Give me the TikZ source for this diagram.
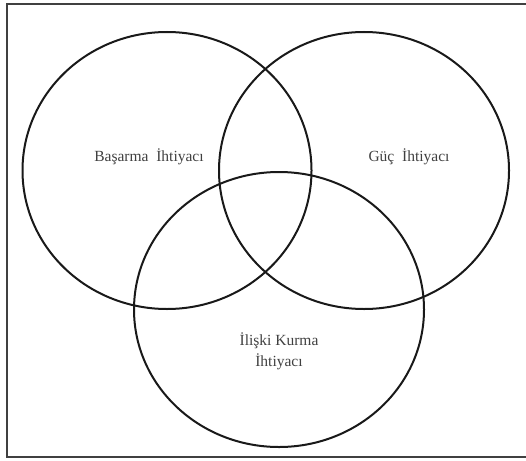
\documentclass[tikz,border=0pt]{standalone}
\usepackage{fontspec}
\setmainfont{Liberation Serif}
\begin{document}
\begin{tikzpicture}[x=1pt,y=-1pt,
    need/.style={draw=black!90, line width=2pt},
    lbl/.style={font=\fontsize{15.5}{21}\selectfont, text=black!75, align=center}]
        \useasboundingbox (0,0) rectangle (526,460);
        \clip (0,0) rectangle (526,460);
        \draw[line width=2.6pt, draw=black!75] (7,4) rectangle (530,457);

        \draw[need] (167,170.5) ellipse [x radius=144.5, y radius=138.5];
        \draw[need] (364,170.5) ellipse [x radius=145, y radius=138.5];
        \draw[need] (279,309.5) ellipse [x radius=145, y radius=137.5];

        \node[lbl] (basarma) at (149,157) {Başarma\ \ İhtiyacı};
        \node[lbl] (guc) at (409,157) {Güç\ \ İhtiyacı};
        \node[lbl] (iliski) at (279,351) {İlişki Kurma\\İhtiyacı};
\end{tikzpicture}
\end{document}
